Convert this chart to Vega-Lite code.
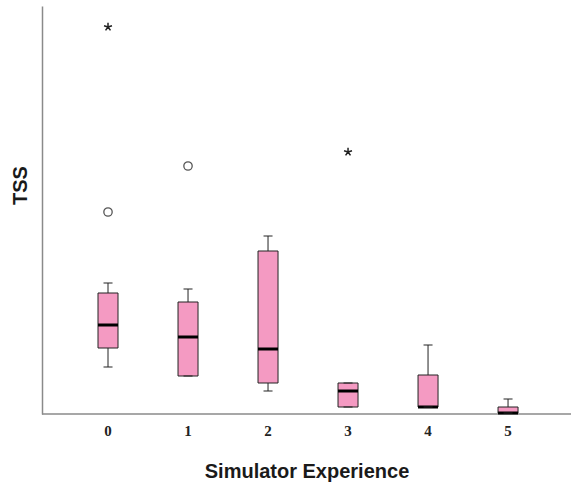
{
  "$schema": "https://vega.github.io/schema/vega-lite/v6.json",
  "width": 529,
  "height": 408,
  "autosize": {"type": "none"},
  "padding": {"left": 42, "top": 6, "right": 0, "bottom": 72},
  "background": "white",
  "config": {
    "view": {"stroke": null},
    "axis": {"grid": false, "ticks": false, "domainColor": "#8a8a8a", "domainWidth": 1.5}
  },
  "datasets": {
    "boxes": [
      {"group": "0", "lower": 47, "q1": 66, "median": 89, "q3": 121, "upper": 131},
      {"group": "1", "lower": 38, "q1": 38, "median": 77, "q3": 112, "upper": 125},
      {"group": "2", "lower": 23, "q1": 31, "median": 65, "q3": 163, "upper": 178},
      {"group": "3", "lower": 7, "q1": 7, "median": 23, "q3": 31, "upper": 31},
      {"group": "4", "lower": 7, "q1": 7, "median": 7, "q3": 39, "upper": 69},
      {"group": "5", "lower": 1, "q1": 1, "median": 1, "q3": 7, "upper": 15}
    ],
    "outliers": [
      {"group": "0", "value": 387, "kind": "extreme"},
      {"group": "0", "value": 202, "kind": "outlier"},
      {"group": "1", "value": 248, "kind": "outlier"},
      {"group": "3", "value": 262, "kind": "extreme"}
    ]
  },
  "layer": [
    {
      "data": {"values": [{"base": 0}]},
      "mark": {"type": "rule", "color": "#8a8a8a", "strokeWidth": 1.5},
      "encoding": {"y": {"field": "base", "type": "quantitative"}}
    },
    {
      "data": {"name": "boxes"},
      "mark": {"type": "rule", "color": "#222222", "strokeWidth": 1, "opacity": 1},
      "encoding": {
        "x": {
          "field": "group",
          "type": "ordinal",
          "sort": ["0", "1", "2", "3", "4", "5"],
          "scale": {"domain": ["0", "1", "2", "3", "4", "5"], "paddingInner": 0.75, "paddingOuter": 0.681, "align": 0.514},
          "axis": {
            "title": "Simulator Experience",
            "domain": false,
            "labelAngle": 0,
            "labelFont": "Liberation Serif",
            "labelFontWeight": "bold",
            "labelFontSize": 15,
            "labelColor": "#222222",
            "labelPadding": 9,
            "titleFont": "Liberation Sans",
            "titleFontWeight": "bold",
            "titleFontSize": 20,
            "titleColor": "#1a1a1a",
            "titleBaseline": "top",
            "titleY": 47
          }
        },
        "y": {"field": "lower", "type": "quantitative", "scale": {"domain": [0, 408], "nice": false, "zero": true},
          "axis": {
            "title": "TSS",
            "labels": false,
            "titleFont": "Liberation Sans",
            "titleFontWeight": "bold",
            "titleFontSize": 20,
            "titleColor": "#1a1a1a",
            "titleAngle": -90,
            "titleAlign": "center",
            "titleBaseline": "alphabetic",
            "titleX": -16,
            "titleY": 179
          }
        },
        "y2": {"field": "upper"}
      }
    },
    {
      "data": {"name": "boxes"},
      "mark": {"type": "bar", "fill": "#f49ac2", "stroke": "#222222", "strokeWidth": 1, "opacity": 1},
      "encoding": {
        "x": {"field": "group", "type": "ordinal"},
        "y": {"field": "q1", "type": "quantitative"},
        "y2": {"field": "q3"}
      }
    },
    {
      "data": {"name": "boxes"},
      "mark": {"type": "tick", "color": "#000000", "thickness": 3, "size": 20, "opacity": 1},
      "encoding": {"x": {"field": "group", "type": "ordinal"}, "y": {"field": "median", "type": "quantitative"}}
    },
    {
      "data": {"name": "boxes"},
      "mark": {"type": "tick", "color": "#222222", "thickness": 1, "size": 9, "opacity": 1},
      "encoding": {"x": {"field": "group", "type": "ordinal"}, "y": {"field": "upper", "type": "quantitative"}}
    },
    {
      "data": {"name": "boxes"},
      "mark": {"type": "tick", "color": "#222222", "thickness": 1, "size": 9, "opacity": 1},
      "encoding": {"x": {"field": "group", "type": "ordinal"}, "y": {"field": "lower", "type": "quantitative"}}
    },
    {
      "data": {"name": "outliers"},
      "transform": [{"filter": "datum.kind === 'outlier'"}],
      "mark": {"type": "point", "shape": "circle", "filled": false, "stroke": "#555555", "strokeWidth": 1.3, "size": 70, "opacity": 1},
      "encoding": {"x": {"field": "group", "type": "ordinal"}, "y": {"field": "value", "type": "quantitative"}}
    },
    {
      "data": {"name": "outliers"},
      "transform": [{"filter": "datum.kind === 'extreme'"}],
      "mark": {"type": "point", "shape": "M0,-1L0,0M0.95,-0.31L0,0M0.59,0.81L0,0M-0.59,0.81L0,0M-0.95,-0.31L0,0", "filled": false, "stroke": "#222222", "strokeWidth": 1.5, "size": 70, "opacity": 1},
      "encoding": {"x": {"field": "group", "type": "ordinal"}, "y": {"field": "value", "type": "quantitative"}}
    }
  ]
}
